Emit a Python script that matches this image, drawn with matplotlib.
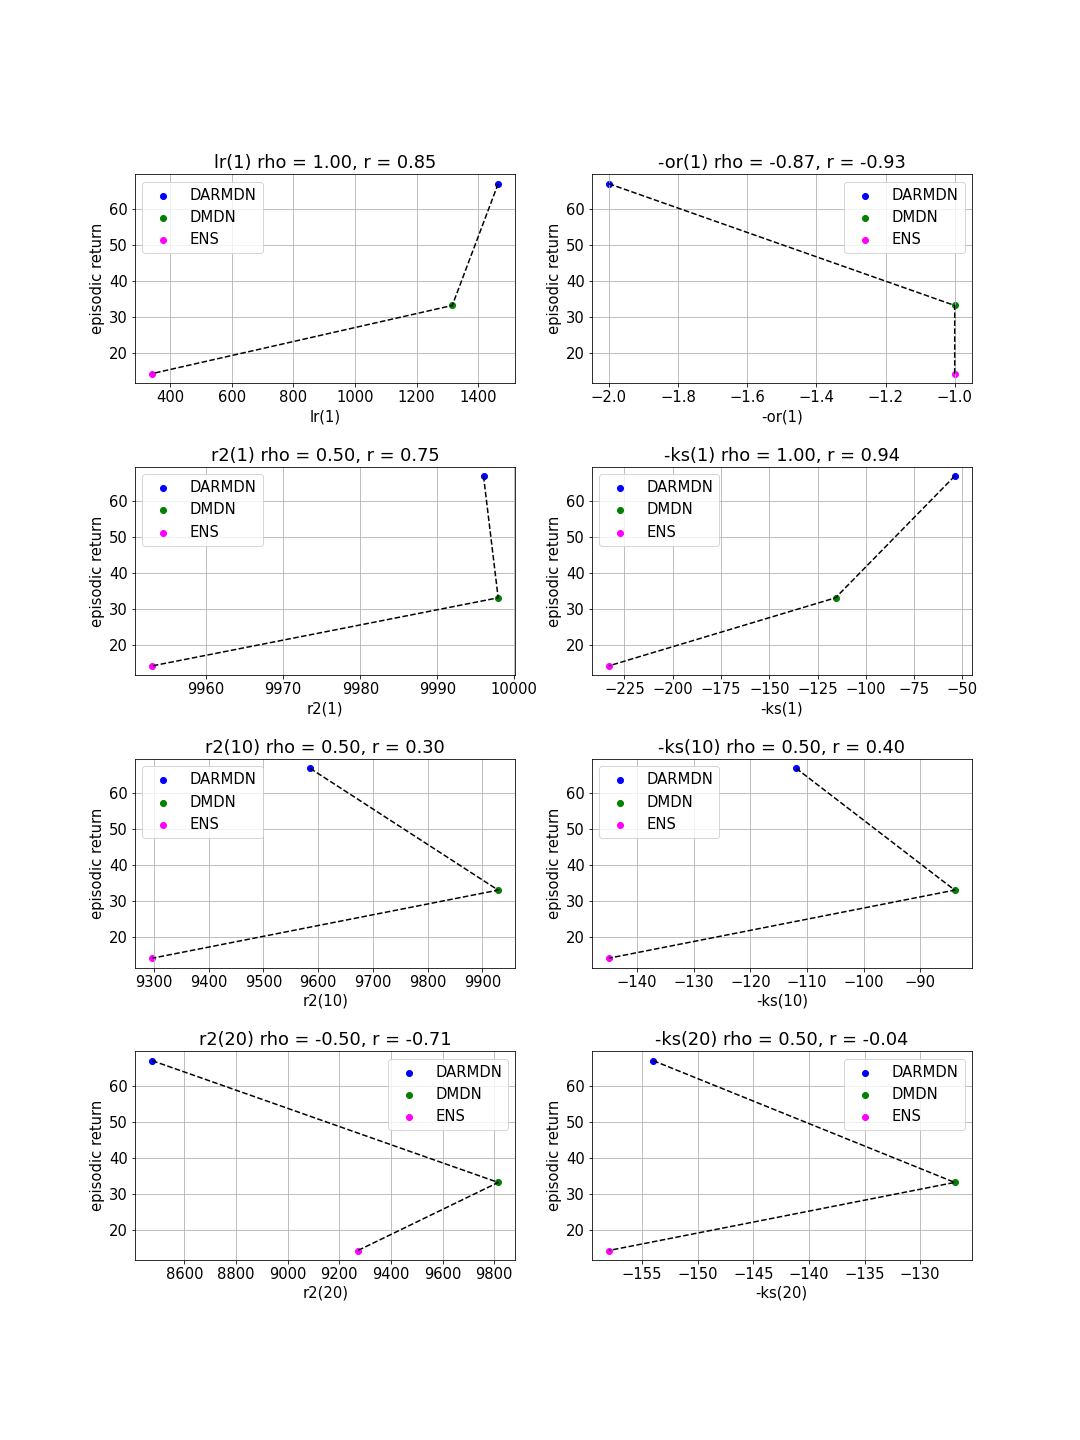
import matplotlib
matplotlib.use("Agg")
import matplotlib.pyplot as plt

# episodic return of each model (same for every panel)
models = ["DARMDN", "DMDN", "ENS"]
model_colors = ["blue", "green", "magenta"]
episodic_return = [66.9, 33.1, 14.2]

metric_names = ["lr(1)", "-or(1)", "r2(1)", "-ks(1)",
                "r2(10)", "-ks(10)", "r2(20)", "-ks(20)"]

# metric value per model, order: DARMDN, DMDN, ENS
lr_1 = [1465, 1316, 342]
or_1 = [-2.0, -1.0, -1.0]
r2_1 = [9996.0, 9997.9, 9953.0]
ks_1 = [-54.0, -115.7, -233.1]
r2_10 = [9585.5, 9929.0, 9297.0]
ks_10 = [-111.9, -83.9, -145.0]
r2_20 = [8476, 9815, 9272]
ks_20 = [-154.0, -126.9, -158.0]

titles = [
    "lr(1) rho = 1.00, r = 0.85",
    "-or(1) rho = -0.87, r = -0.93",
    "r2(1) rho = 0.50, r = 0.75",
    "-ks(1) rho = 1.00, r = 0.94",
    "r2(10) rho = 0.50, r = 0.30",
    "-ks(10) rho = 0.50, r = 0.40",
    "r2(20) rho = -0.50, r = -0.71",
    "-ks(20) rho = 0.50, r = -0.04",
]

legend_locs = ["upper left", "upper right", "upper left", "upper left",
               "upper left", "upper left", "upper right", "upper right"]

metrics = [lr_1, or_1, r2_1, ks_1, r2_10, ks_10, r2_20, ks_20]

plt.rcParams["font.size"] = 14.8

fig, axes = plt.subplots(4, 2, figsize=(15, 20))
fig.subplots_adjust(left=0.125, right=0.9, top=0.879, bottom=0.125,
                    hspace=0.4, wspace=0.2)

for ax, name, vals, title, loc in zip(axes.flat, metric_names, metrics, titles, legend_locs):
    for m, c, x, y in zip(models, model_colors, vals, episodic_return):
        ax.scatter(x, y, color=c, label=m)
    ax.plot(vals, episodic_return, "k--")
    ax.set_title(title)
    ax.set_xlabel(name)
    ax.set_ylabel("episodic return")
    ax.grid(True)
    ax.legend(loc=loc)

fig.savefig("out.png", dpi=72)
